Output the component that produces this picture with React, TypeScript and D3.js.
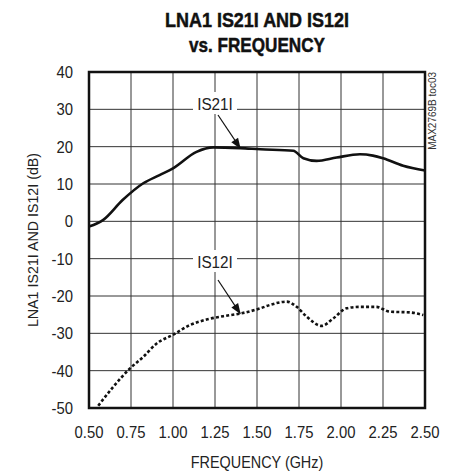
import React from "react";
import * as d3 from "d3";

const xTicks = [0.5, 0.75, 1.0, 1.25, 1.5, 1.75, 2.0, 2.25, 2.5];
const yTicks = [40, 30, 20, 10, 0, -10, -20, -30, -40, -50];

const s21Freq = [0.5, 0.585, 0.7, 0.823, 0.92, 1.0, 1.14, 1.24, 1.4, 1.52, 1.716, 1.776, 1.855, 1.974, 2.113, 2.19, 2.25, 2.37, 2.5];
const s21Db = [-1.4, 0.4, 5.7, 10.2, 12.4, 14.2, 18.6, 19.8, 19.6, 19.3, 18.9, 16.9, 16.2, 17.1, 17.95, 17.6, 16.9, 14.9, 13.6];

const s12Freq = [0.555, 0.645, 0.744, 0.823, 0.903, 1.0, 1.1, 1.2, 1.3, 1.4, 1.52, 1.577, 1.677, 1.736, 1.795, 1.885, 1.954, 2.033, 2.113, 2.21, 2.29, 2.41, 2.49];
const s12Db = [-49.4, -44.3, -39.4, -36.3, -32.7, -30.4, -27.8, -26.3, -25.4, -24.7, -23.3, -22.4, -21.5, -22.9, -25.5, -28.0, -26.0, -23.3, -22.9, -22.9, -24.2, -24.4, -25.1];

const W = 455, H = 472;
const L = 89, R = 425, T = 72, B = 408;
const FONT = "'Liberation Sans', Arial, sans-serif";
const SX = 0.9;

export default function App() {
  const x = d3.scaleLinear().domain([0.5, 2.5]).range([L, R]);
  const y = d3.scaleLinear().domain([-50, 40]).range([B, T]);
  const line = d3
    .line<[number, number]>()
    .x((d) => x(d[0]))
    .y((d) => y(d[1]))
    .curve(d3.curveMonotoneX);
  const s21 = line(s21Freq.map((f, i) => [f, s21Db[i]] as [number, number]));
  const s12 = line(s12Freq.map((f, i) => [f, s12Db[i]] as [number, number]));

  return (
    <svg width={W} height={H} style={{ position: "absolute", left: 0, top: 0, background: "#fff" }}>
      <defs>
        <marker id="arr" viewBox="0 0 12 10" refX="11" refY="5" markerWidth="12" markerHeight="9" orient="auto" markerUnits="userSpaceOnUse">
          <path d="M0,0.5 L12,5 L0,9.5 z" fill="#111" />
        </marker>
      </defs>
      <rect width={W} height={H} fill="#fff" />
      <text x={257} y={27} textAnchor="middle" fontFamily={FONT} fontWeight="bold" fontSize={21} textLength={184} lengthAdjust="spacingAndGlyphs" fill="#111" stroke="#111" strokeWidth={0.5}>
        LNA1 IS21I AND IS12I
      </text>
      <text x={257} y={52} textAnchor="middle" fontFamily={FONT} fontWeight="bold" fontSize={21} textLength={136} lengthAdjust="spacingAndGlyphs" fill="#111" stroke="#111" strokeWidth={0.5}>
        vs. FREQUENCY
      </text>
      {xTicks.map((t) => (
        <line key={"gx" + t} x1={x(t)} x2={x(t)} y1={T} y2={B} stroke="#333" strokeWidth={1} />
      ))}
      {yTicks.map((t) => (
        <line key={"gy" + t} x1={L} x2={R} y1={y(t)} y2={y(t)} stroke="#333" strokeWidth={1} />
      ))}
      {yTicks.map((t) => (
        <text key={"ty" + t} transform={`translate(73,${y(t) + 6}) scale(${SX},1)`} textAnchor="end" fontFamily={FONT} fontSize={16.5} fill="#222">
          {t}
        </text>
      ))}
      {xTicks.map((t) => (
        <text key={"tx" + t} transform={`translate(${x(t)},437.5) scale(${SX},1)`} textAnchor="middle" fontFamily={FONT} fontSize={16.5} fill="#222">
          {t.toFixed(2)}
        </text>
      ))}
      <path d={s21 || ""} fill="none" stroke="#111" strokeWidth={2.6} />
      <path d={s12 || ""} fill="none" stroke="#111" strokeWidth={2.6} strokeDasharray="3 2.2" />
      <rect x={L} y={T} width={R - L} height={B - T} fill="none" stroke="#111" strokeWidth={2.5} />
      {/* labels */}
      <rect x={193} y={92} width={44} height={22} fill="#fff" />
      <text transform="translate(215,110) scale(0.9,1)" textAnchor="middle" fontFamily={FONT} fontSize={17} fill="#222">IS21I</text>
      <line x1={218} y1={115} x2={x(1.4)} y2={y(19.6)} stroke="#111" strokeWidth={1.2} markerEnd="url(#arr)" />
      <rect x={193} y={250} width={44} height={22} fill="#fff" />
      <text transform="translate(215,268) scale(0.9,1)" textAnchor="middle" fontFamily={FONT} fontSize={17} fill="#222">IS12I</text>
      <line x1={218} y1={280} x2={x(1.4)} y2={y(-24.7)} stroke="#111" strokeWidth={1.2} markerEnd="url(#arr)" />
      <text transform={`translate(38,${(T + B) / 2}) rotate(-90) scale(0.92,1)`} textAnchor="middle" fontFamily={FONT} fontSize={15.5} fill="#222">
        LNA1 IS21I AND IS12I (dB)
      </text>
      <text transform={`translate(257,468) scale(0.9,1)`} textAnchor="middle" fontFamily={FONT} fontSize={16} fill="#222">
        FREQUENCY (GHz)
      </text>
      <text transform={`translate(436,72) rotate(-90)`} textAnchor="end" fontFamily={FONT} fontSize={10} fill="#333">
        MAX2769B toc03
      </text>
    </svg>
  );
}
